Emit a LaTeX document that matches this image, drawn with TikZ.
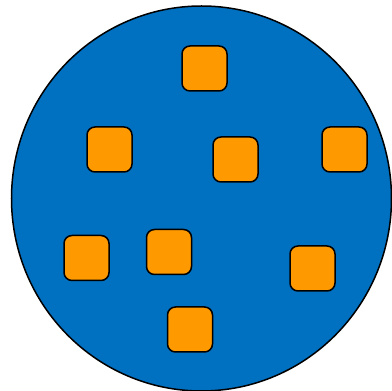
\documentclass[tikz,border=0pt]{standalone}
\definecolor{discblue}{RGB}{0,112,192}
\definecolor{boxorange}{RGB}{255,153,0}
\tikzset{
  disc/.style={draw=black, line width=1.5pt, fill=discblue},
  sq/.style={draw=black, line width=1.5pt, fill=boxorange, rounded corners=8pt, minimum width=45pt, minimum height=45pt, inner sep=0pt}
}
\begin{document}
\begin{tikzpicture}[x=1pt,y=1pt]
\useasboundingbox (0,0) rectangle (392,391);
\clip (0,0) rectangle (392,391);
\path[disc] (201.5,192.5) ellipse [x radius=190, y radius=192.5];
\node[sq] (s1) at (204.5,322.5) {};
\node[sq] (s2) at (109.5,241.5) {};
\node[sq] (s3) at (235.5,231.5) {};
\node[sq] (s4) at (344.5,241.5) {};
\node[sq] (s5) at (86.5,133) {};
\node[sq] (s6) at (169,139) {};
\node[sq] (s7) at (312.5,122.5) {};
\node[sq] (s8) at (190,61.5) {};
\end{tikzpicture}
\end{document}
